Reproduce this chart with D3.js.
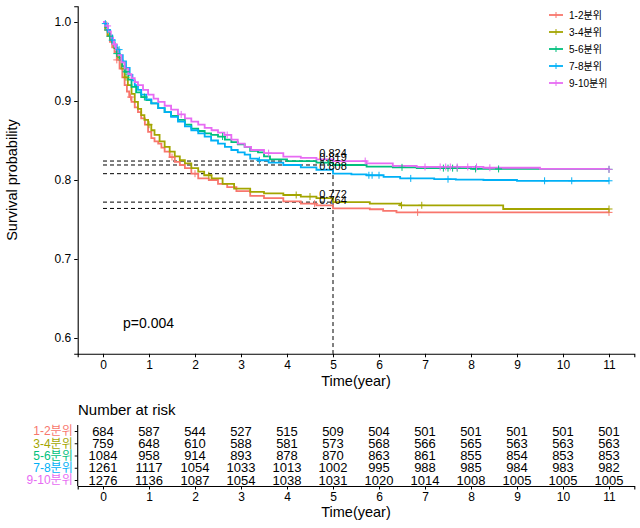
<!DOCTYPE html>
<html>
<head>
<meta charset="utf-8">
<script src="https://cdn.jsdelivr.net/npm/d3@7"></script>
<style>
  html, body { margin: 0; padding: 0; background: #fff; }
  svg { display: block; font-family: "Liberation Sans", Arial, "Noto Sans CJK KR", sans-serif; }
</style>
</head>
<body>
<svg id="chart" width="640" height="528"></svg>
<script>
// ---------- DATA ----------
const groups = ["1-2분위", "3-4분위", "5-6분위", "7-8분위", "9-10분위"];
const colors = ["#F8766D", "#A3A500", "#00BF7D", "#00B0F6", "#E76BF3"];

const time12 = [0,0.05,0.1,0.15,0.2,0.25,0.3,0.36,0.42,0.47,0.52,0.57,0.62,0.69,0.76,0.83,0.91,0.98,1.05,1.12,1.2,1.27,1.34,1.45,1.56,1.67,1.78,1.92,2.07,2.3,2.5,2.7,2.9,3.2,3.5,3.92,4.3,4.64,5.0,5.8,6.09,6.38,11];
const surv12 = [1,0.99,0.982,0.975,0.968,0.962,0.952,0.941,0.93,0.92,0.912,0.905,0.899,0.892,0.886,0.878,0.87,0.861,0.853,0.849,0.846,0.841,0.836,0.829,0.823,0.819,0.815,0.808,0.802,0.8,0.795,0.791,0.786,0.78,0.777,0.773,0.77,0.768,0.764,0.763,0.761,0.759,0.759];

const time34 = [0,0.05,0.1,0.15,0.2,0.25,0.32,0.4,0.47,0.54,0.62,0.69,0.76,0.83,0.9,0.98,1.05,1.12,1.23,1.34,1.45,1.56,1.67,1.78,1.92,2.07,2.2,2.36,2.6,2.85,3.2,3.5,3.92,4.3,4.64,5.0,5.8,6.46,8.7,11];
const surv34 = [1,0.99,0.983,0.977,0.972,0.967,0.955,0.941,0.93,0.92,0.909,0.899,0.89,0.882,0.876,0.87,0.863,0.857,0.849,0.842,0.836,0.83,0.825,0.821,0.815,0.8105,0.806,0.802,0.795,0.789,0.785,0.783,0.781,0.779,0.777,0.772,0.77,0.768,0.7633,0.7633];

const time56 = [0,0.05,0.1,0.15,0.2,0.25,0.3,0.36,0.42,0.47,0.55,0.62,0.72,0.83,0.94,1.05,1.2,1.34,1.48,1.63,1.78,1.92,2.07,2.21,2.35,2.5,2.65,2.79,2.93,3.08,3.2,3.37,3.5,3.63,4.0,4.64,5.0,5.73,6.3,6.82,8.0,11];
const surv56 = [1,0.994,0.988,0.982,0.974,0.967,0.96,0.952,0.944,0.937,0.927,0.918,0.911,0.905,0.901,0.897,0.891,0.886,0.881,0.876,0.87,0.865,0.862,0.859,0.857,0.855,0.851,0.848,0.845,0.842,0.837,0.835,0.83,0.826,0.824,0.822,0.819,0.817,0.816,0.815,0.814,0.8135];

const time78 = [0,0.04,0.1,0.15,0.2,0.25,0.3,0.36,0.43,0.5,0.58,0.64,0.69,0.76,0.83,0.94,1.05,1.2,1.34,1.48,1.63,1.78,1.92,2.07,2.21,2.35,2.5,2.65,2.79,2.93,3.08,3.2,3.37,3.6,3.92,4.3,4.64,5.0,5.4,5.73,6.1,6.46,7.2,7.67,8.27,9.0,11];
const surv78 = [1,0.998,0.99,0.983,0.977,0.971,0.965,0.958,0.95,0.942,0.933,0.926,0.92,0.914,0.908,0.902,0.897,0.891,0.886,0.88,0.874,0.868,0.863,0.859,0.855,0.85,0.846,0.842,0.838,0.835,0.832,0.827,0.825,0.822,0.819,0.816,0.813,0.808,0.807,0.806,0.804,0.802,0.801,0.8005,0.8,0.799,0.799];

const time910 = [0,0.05,0.11,0.17,0.22,0.28,0.33,0.4,0.47,0.55,0.62,0.69,0.76,0.87,0.98,1.1,1.2,1.34,1.48,1.63,1.78,1.92,2.07,2.21,2.36,2.5,2.64,2.79,2.93,3.08,3.22,3.5,3.92,4.3,4.64,5.0,5.73,6.3,6.82,8.27,9.5,11];
const surv910 = [1,0.995,0.988,0.98,0.972,0.965,0.958,0.949,0.941,0.934,0.929,0.924,0.92,0.914,0.908,0.903,0.899,0.894,0.889,0.883,0.878,0.874,0.87,0.866,0.863,0.86,0.857,0.851,0.846,0.842,0.838,0.834,0.8295,0.828,0.826,0.824,0.821,0.818,0.8165,0.8155,0.814,0.8135];

const censor12 = [0.3,0.6,1.5,2.0,4.6,6.84,11];
const censor34 = [0.5,1.0,2.3,4.2,4.5,6.49,6.93,11];
const censor56 = [0.15,0.3,0.5,0.9,2.6,4.9,6.5,7.4,7.5,7.6,7.7,8.1,8.6,11];
const censor78 = [0.05,0.1,0.2,0.35,3.4,5.78,5.85,6.0,6.69,7.5,9.6,10.19,11];
const censor910 = [0.1,0.25,1.7,2.7,3.6,5.7,7.0,7.33,7.45,7.55,7.7,7.93,8.12,8.41,11];

const medianTime = 5;
const medianValues = [0.764, 0.772, 0.819, 0.808, 0.824];
const medianLabels = ["0.764", "0.772", "0.819", "0.808", "0.824"];

const xTicks = [0,1,2,3,4,5,6,7,8,9,10,11];
const yTicks = [0.6,0.7,0.8,0.9,1.0];

const risk12 = [684,587,544,527,515,509,504,501,501,501,501,501];
const risk34 = [759,648,610,588,581,573,568,566,565,563,563,563];
const risk56 = [1084,958,914,893,878,870,863,861,855,854,853,853];
const risk78 = [1261,1117,1054,1033,1013,1002,995,988,985,984,983,982];
const risk910 = [1276,1136,1087,1054,1038,1031,1020,1014,1008,1005,1005,1005];

const pValueText = "p=0.004";

// ---------- BUILD ----------
const series = [
  {name: groups[0], t: time12, s: surv12, c: censor12, risk: risk12},
  {name: groups[1], t: time34, s: surv34, c: censor34, risk: risk34},
  {name: groups[2], t: time56, s: surv56, c: censor56, risk: risk56},
  {name: groups[3], t: time78, s: surv78, c: censor78, risk: risk78},
  {name: groups[4], t: time910, s: surv910, c: censor910, risk: risk910}
];

const svg = d3.select("#chart");
svg.append("rect").attr("width", 640).attr("height", 528).attr("fill", "#fff");

const x = d3.scaleLinear().domain([-0.55, 11.55]).range([77.7, 634.3]);
const y = d3.scaleLinear().domain([0.58, 1.02]).range([353.8, 6.2]);
const color = d3.scaleOrdinal().domain(groups).range(colors);

// axes
const yAxis = svg.append("g").attr("transform", `translate(${x.range()[0]},0)`)
  .call(d3.axisLeft(y).tickValues(yTicks).tickFormat(d3.format(".1f")).tickSizeOuter(0).tickSize(3.5).tickPadding(3));
const xAxis = svg.append("g").attr("transform", `translate(0,${y.range()[0]})`)
  .call(d3.axisBottom(x).tickValues(xTicks).tickSizeOuter(0).tickSize(3.5).tickPadding(3));
[yAxis, xAxis].forEach(a => {
  a.selectAll("path").attr("stroke", "#000").attr("stroke-width", 1.1);
  a.selectAll("line").attr("stroke", "#000").attr("stroke-width", 1);
  a.selectAll("text").attr("fill", "#000").style("font-size", "12px")
   .style("font-family", "'Liberation Sans', Arial, sans-serif");
});

svg.append("text").attr("x", (x.range()[0] + x.range()[1]) / 2).attr("y", 386)
  .attr("text-anchor", "middle").style("font-size", "14.5px").text("Time(year)");
svg.append("text").attr("transform", `translate(17,${(y.range()[0] + y.range()[1]) / 2}) rotate(-90)`)
  .attr("text-anchor", "middle").style("font-size", "14.5px").text("Survival probability");

// median dashed lines
const gMed = svg.append("g");
medianValues.forEach(v => {
  gMed.append("line").attr("x1", x(0)).attr("x2", x(medianTime))
    .attr("y1", y(v)).attr("y2", y(v))
    .attr("stroke", "#000").attr("stroke-width", 1).attr("stroke-dasharray", "4,3");
});
gMed.append("line").attr("x1", x(medianTime)).attr("x2", x(medianTime))
  .attr("y1", y(d3.max(medianValues))).attr("y2", y.range()[0])
  .attr("stroke", "#000").attr("stroke-width", 1).attr("stroke-dasharray", "4,3");

// curves
const line = d3.line().x(d => x(d[0])).y(d => y(d[1])).curve(d3.curveStepAfter);
series.forEach(sr => {
  const pts = sr.t.map((t, i) => [t, sr.s[i]]);
  svg.append("path").attr("d", line(pts)).attr("fill", "none")
    .attr("stroke", color(sr.name)).attr("stroke-width", 1.8);
});
// censor marks
const survAt = (sr, t) => { let v = sr.s[0]; for (let i = 0; i < sr.t.length; i++) { if (sr.t[i] <= t) v = sr.s[i]; } return v; };
series.forEach(sr => {
  const g = svg.append("g").attr("stroke", color(sr.name)).attr("stroke-width", 1);
  sr.c.forEach(t => {
    const cx = x(t), cy = y(survAt(sr, t));
    g.append("line").attr("x1", cx - 3.5).attr("x2", cx + 3.5).attr("y1", cy).attr("y2", cy);
    g.append("line").attr("x1", cx).attr("x2", cx).attr("y1", cy - 3.5).attr("y2", cy + 3.5);
  });
});

// median labels
medianValues.forEach((v, i) => {
  svg.append("text").attr("x", x(medianTime)).attr("y", y(v) - 4)
    .attr("text-anchor", "middle").style("font-size", "11px").attr("fill", "#000")
    .text(medianLabels[i]);
});

// p value
svg.append("text").attr("x", 123).attr("y", 328).style("font-size", "14px").text(pValueText);

// legend
const leg = svg.append("g");
groups.forEach((g, i) => {
  const ly = 15 + i * 17;
  leg.append("line").attr("x1", 549).attr("x2", 563).attr("y1", ly).attr("y2", ly)
    .attr("stroke", color(g)).attr("stroke-width", 1.8);
  leg.append("line").attr("x1", 556).attr("x2", 556).attr("y1", ly - 3).attr("y2", ly + 3)
    .attr("stroke", color(g)).attr("stroke-width", 1);
  leg.append("text").attr("x", 569).attr("y", ly + 3.5).style("font-size", "10px")
    .style("font-family", "'Liberation Sans', Arial, 'Noto Sans CJK KR', sans-serif").text(g);
});

// ---------- RISK TABLE ----------
svg.append("text").attr("x", 78).attr("y", 415).style("font-size", "15px").text("Number at risk");
const ry = d3.scalePoint().domain(groups).range([431, 480]);
const rTop = 425, rBottom = 486;
const rxAxis = svg.append("g").attr("transform", `translate(0,${rBottom})`)
  .call(d3.axisBottom(x).tickValues(xTicks).tickSizeOuter(0).tickSize(3.5).tickPadding(3));
const ryAxis = svg.append("g").attr("transform", `translate(${x.range()[0]},0)`)
  .call(d3.axisLeft(ry).tickSizeOuter(0).tickSize(3).tickPadding(2));
ryAxis.select("path").attr("d", `M0,${rTop}V${rBottom}`);
[rxAxis, ryAxis].forEach(a => {
  a.selectAll("path").attr("stroke", "#000").attr("stroke-width", 1.1);
  a.selectAll("line").attr("stroke", "#000").attr("stroke-width", 1);
  a.selectAll("text").style("font-size", "12px")
   .style("font-family", "'Liberation Sans', Arial, 'Noto Sans CJK KR', sans-serif");
});
rxAxis.selectAll("text").attr("fill", "#000");
ryAxis.selectAll("text").attr("fill", d => color(d));

series.forEach(sr => {
  sr.risk.forEach((n, i) => {
    svg.append("text").attr("x", x(xTicks[i])).attr("y", ry(sr.name)).attr("dy", "0.35em")
      .attr("text-anchor", "middle").style("font-size", "13px").attr("fill", "#000").text(n);
  });
});
svg.append("text").attr("x", (x.range()[0] + x.range()[1]) / 2).attr("y", 517)
  .attr("text-anchor", "middle").style("font-size", "14.5px").text("Time(year)");
</script>
</body>
</html>
